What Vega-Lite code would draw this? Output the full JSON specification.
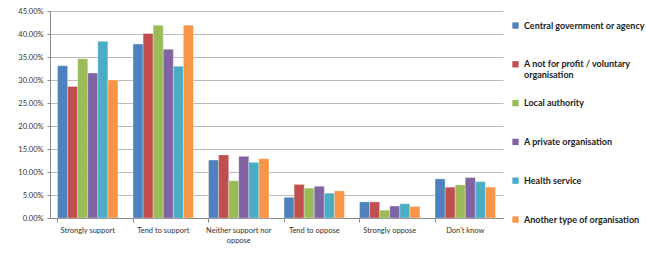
{
  "$schema": "https://vega.github.io/schema/vega-lite/v6.json",
  "autosize": "none",
  "width": 453,
  "height": 207,
  "padding": {"left": 50, "top": 11, "right": 143, "bottom": 48},
  "background": "white",
  "config": {
    "font": "Lato",
    "view": {"stroke": null},
    "axis": {"labelColor": "#333333", "labelFont": "Lato", "labelFontSize": 7.5}
  },
  "data": {
    "values": [
      {"cat": "Strongly support", "org": "Central government or agency", "v": 0.331},
      {"cat": "Strongly support", "org": "A not for profit / voluntary organisation", "v": 0.286},
      {"cat": "Strongly support", "org": "Local authority", "v": 0.346},
      {"cat": "Strongly support", "org": "A private organisation", "v": 0.315},
      {"cat": "Strongly support", "org": "Health service", "v": 0.384},
      {"cat": "Strongly support", "org": "Another type of organisation", "v": 0.300},
      {"cat": "Tend to support", "org": "Central government or agency", "v": 0.378},
      {"cat": "Tend to support", "org": "A not for profit / voluntary organisation", "v": 0.401},
      {"cat": "Tend to support", "org": "Local authority", "v": 0.419},
      {"cat": "Tend to support", "org": "A private organisation", "v": 0.367},
      {"cat": "Tend to support", "org": "Health service", "v": 0.330},
      {"cat": "Tend to support", "org": "Another type of organisation", "v": 0.419},
      {"cat": "Neither support nor oppose", "org": "Central government or agency", "v": 0.126},
      {"cat": "Neither support nor oppose", "org": "A not for profit / voluntary organisation", "v": 0.137},
      {"cat": "Neither support nor oppose", "org": "Local authority", "v": 0.081},
      {"cat": "Neither support nor oppose", "org": "A private organisation", "v": 0.134},
      {"cat": "Neither support nor oppose", "org": "Health service", "v": 0.121},
      {"cat": "Neither support nor oppose", "org": "Another type of organisation", "v": 0.129},
      {"cat": "Tend to oppose", "org": "Central government or agency", "v": 0.045},
      {"cat": "Tend to oppose", "org": "A not for profit / voluntary organisation", "v": 0.073},
      {"cat": "Tend to oppose", "org": "Local authority", "v": 0.065},
      {"cat": "Tend to oppose", "org": "A private organisation", "v": 0.069},
      {"cat": "Tend to oppose", "org": "Health service", "v": 0.054},
      {"cat": "Tend to oppose", "org": "Another type of organisation", "v": 0.059},
      {"cat": "Strongly oppose", "org": "Central government or agency", "v": 0.035},
      {"cat": "Strongly oppose", "org": "A not for profit / voluntary organisation", "v": 0.035},
      {"cat": "Strongly oppose", "org": "Local authority", "v": 0.017},
      {"cat": "Strongly oppose", "org": "A private organisation", "v": 0.026},
      {"cat": "Strongly oppose", "org": "Health service", "v": 0.031},
      {"cat": "Strongly oppose", "org": "Another type of organisation", "v": 0.025},
      {"cat": "Don't know", "org": "Central government or agency", "v": 0.085},
      {"cat": "Don't know", "org": "A not for profit / voluntary organisation", "v": 0.067},
      {"cat": "Don't know", "org": "Local authority", "v": 0.072},
      {"cat": "Don't know", "org": "A private organisation", "v": 0.088},
      {"cat": "Don't know", "org": "Health service", "v": 0.079},
      {"cat": "Don't know", "org": "Another type of organisation", "v": 0.067}
    ]
  },
  "mark": {"type": "bar", "stroke": "white", "strokeWidth": 0.5, "strokeOpacity": 0.6},
  "encoding": {
    "x": {
      "field": "cat", "type": "nominal", "sort": null, "title": null,
      "scale": {"paddingInner": 0.2, "paddingOuter": 0.1},
      "axis": {
        "labelAngle": 0, "bandPosition": 0, "tickColor": "#888888", "domainColor": "#888888",
        "tickSize": 4, "labelPadding": 4, "labelLineHeight": 10,
        "labelExpr": "datum.label == 'Neither support nor oppose' ? ['Neither support nor', 'oppose'] : datum.label"
      }
    },
    "xOffset": {
      "field": "org", "type": "nominal", "sort": null,
      "scale": {"paddingInner": 0, "paddingOuter": 0}
    },
    "y": {
      "field": "v", "type": "quantitative", "title": null,
      "scale": {"domain": [0, 0.45]},
      "axis": {
        "format": ".2%", "values": [0, 0.05, 0.1, 0.15, 0.2, 0.25, 0.3, 0.35, 0.4, 0.45],
        "gridColor": "#BBBBBB", "gridWidth": 1, "domainColor": "#888888", "tickColor": "#888888",
        "tickSize": 3, "labelPadding": 4
      }
    },
    "color": {
      "field": "org", "type": "nominal", "sort": null, "title": null,
      "scale": {
        "domain": ["Central government or agency", "A not for profit / voluntary organisation", "Local authority", "A private organisation", "Health service", "Another type of organisation"],
        "range": ["#4F81BD", "#C0504D", "#9BBB59", "#8064A2", "#4BACC6", "#F79646"]
      },
      "legend": {
        "orient": "none", "legendX": 461, "legendY": 10,
        "symbolType": "square", "symbolSize": 40, "symbolStrokeWidth": 0,
        "labelFont": "Lato", "labelFontSize": 9, "labelFontWeight": "bold", "labelColor": "#222222",
        "labelLimit": 200, "labelOffset": 4, "rowPadding": 17.8, "labelLineHeight": 11,
        "labelExpr": "datum.label == 'A not for profit / voluntary organisation' ? ['A not for profit / voluntary', 'organisation'] : [datum.label, ' ']"
      }
    }
  }
}
